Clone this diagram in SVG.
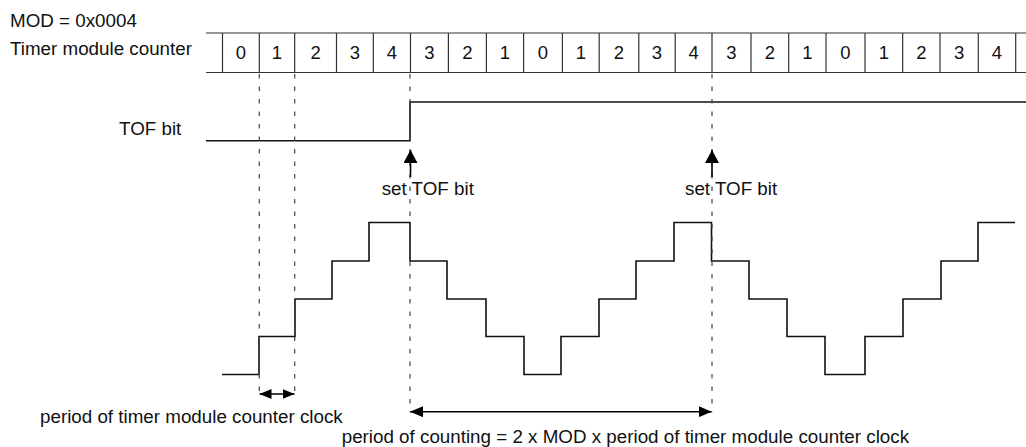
<svg xmlns="http://www.w3.org/2000/svg" width="1026" height="447" viewBox="0 0 1026 447">
<style>
text{font-family:"Liberation Sans",Arial,Helvetica,sans-serif;font-size:18.8px;fill:#111}
.num{font-size:18.5px;text-anchor:middle}
.tbl{stroke:#333;stroke-width:1.2;fill:none}
.sig{stroke:#111;stroke-width:1.6;fill:none}
.dash{stroke:#444;stroke-width:1.2;stroke-dasharray:4.5 8;fill:none}
.arr{stroke:#000;stroke-width:1.6;fill:none}
</style>
<defs>
<marker id="ah" viewBox="0 0 12 10" refX="12" refY="5" markerWidth="12" markerHeight="10" markerUnits="userSpaceOnUse" orient="auto-start-reverse"><path d="M0,0 L12,5 L0,10 z" fill="#000"/></marker>
<marker id="ahL" viewBox="0 0 13 11" refX="13" refY="5.5" markerWidth="13" markerHeight="11" markerUnits="userSpaceOnUse" orient="auto-start-reverse"><path d="M0,0 L13,5.5 L0,11 z" fill="#000"/></marker>
<marker id="ahU" viewBox="0 0 13 14" refX="13" refY="7" markerWidth="13" markerHeight="14" markerUnits="userSpaceOnUse" orient="auto"><path d="M0,0 L13,7 L0,14 z" fill="#000"/></marker>
</defs>

<g id="labels">
<text x="10" y="27">MOD = 0x0004</text>
<text x="10" y="55">Timer module counter</text>
<text x="119" y="135">TOF bit</text>
</g>

<g id="counter-table">
<line class="tbl" x1="206" y1="33" x2="1026" y2="33"/>
<line class="tbl" x1="206" y1="72.5" x2="1026" y2="72.5"/>
<path class="tbl" d="M222.5,33V72.5M259.3,33V72.5M294.7,33V72.5M336.5,33V72.5M373.3,33V72.5M410.5,33V72.5M448.4,33V72.5M486.4,33V72.5M523.6,33V72.5M562.4,33V72.5M599.2,33V72.5M638.8,33V72.5M675.2,33V72.5M712,33V72.5M751,33V72.5M788.7,33V72.5M826,33V72.5M865,33V72.5M902.7,33V72.5M940,33V72.5M978.3,33V72.5M1015.7,33V72.5"/>
<text class="num" x="240.9" y="59">0</text>
<text class="num" x="277" y="59">1</text>
<text class="num" x="315.6" y="59">2</text>
<text class="num" x="354.9" y="59">3</text>
<text class="num" x="391.9" y="59">4</text>
<text class="num" x="429.5" y="59">3</text>
<text class="num" x="467.4" y="59">2</text>
<text class="num" x="505" y="59">1</text>
<text class="num" x="543" y="59">0</text>
<text class="num" x="580.8" y="59">1</text>
<text class="num" x="619" y="59">2</text>
<text class="num" x="657" y="59">3</text>
<text class="num" x="693.6" y="59">4</text>
<text class="num" x="731.5" y="59">3</text>
<text class="num" x="769.9" y="59">2</text>
<text class="num" x="807.4" y="59">1</text>
<text class="num" x="845.5" y="59">0</text>
<text class="num" x="883.9" y="59">1</text>
<text class="num" x="921.4" y="59">2</text>
<text class="num" x="959.2" y="59">3</text>
<text class="num" x="997" y="59">4</text>
</g>

<g id="tof-signal">
<path class="sig" d="M206,140.7H410V102H1026"/>
</g>

<g id="counter-waveform">
<path class="sig" d="M222,374.5H259V336.5H295V299H332V261H369V222.5H410V261H447V299H486V336.5H524V374.5H561V336.5H599V299H636V261H674V222.5H711.5V261H749V299H787V336.5H825V374.5H865V336.5H903V299H941V261H978V222.5H1015"/>
</g>

<g id="connectors">
<line class="dash" x1="259.3" y1="74" x2="259.3" y2="398"/>
<line class="dash" x1="294.7" y1="74" x2="294.7" y2="398"/>
<line class="dash" x1="410" y1="74" x2="410" y2="412"/>
<line class="dash" x1="712" y1="74" x2="712" y2="412"/>
<line class="arr" x1="410.5" y1="177" x2="410.5" y2="150" marker-end="url(#ahU)"/>
<line class="arr" x1="712" y1="177" x2="712" y2="150" marker-end="url(#ahU)"/>
<line class="arr" x1="259.5" y1="394" x2="294.5" y2="394" marker-start="url(#ah)" marker-end="url(#ah)"/>
<line class="arr" x1="410" y1="411.7" x2="711.7" y2="411.7" marker-start="url(#ahL)" marker-end="url(#ahL)"/>
</g>

<g id="annotations">
<text x="381.7" y="195">set TOF bit</text>
<text x="685" y="195">set TOF bit</text>
<text x="40" y="422.7">period of timer module counter clock</text>
<text x="341.7" y="442.7">period of counting = 2 x MOD x period of timer module counter clock</text>
</g>
</svg>
